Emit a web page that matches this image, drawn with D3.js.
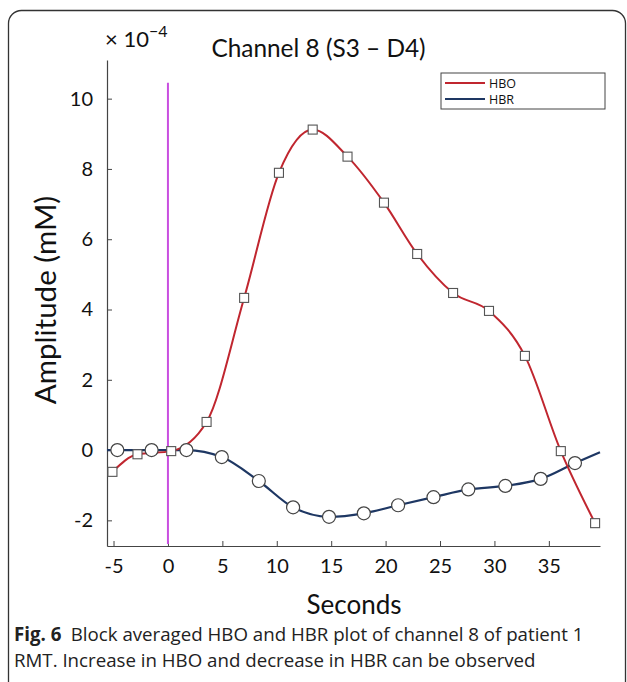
<!DOCTYPE html>
<html>
<head>
<meta charset="utf-8">
<script src="https://cdn.jsdelivr.net/npm/d3@7"></script>
<style>
  body { margin: 0; background: #fff; }
  svg { display: block; font-family: Lato, "Open Sans", sans-serif; }
</style>
</head>
<body>
<svg id="chart"></svg>
<script>
// data (amplitude in units of 1e-4 mM)
var hboT = [-5.1, -2.8, 0.3, 3.55, 7.0, 10.2, 13.3, 16.5, 19.85, 22.9, 26.2, 29.5, 32.8, 36.1, 39.25];
var hboV = [-0.62, -0.12, -0.03, 0.8, 4.33, 7.89, 9.12, 8.35, 7.04, 5.58, 4.47, 3.96, 2.68, -0.03, -2.08];
var hbrT = [-4.65, -1.5, 1.7, 4.95, 8.35, 11.5, 14.8, 18.0, 21.15, 24.4, 27.6, 31.0, 34.25, 37.4];
var hbrV = [0, 0, 0, -0.2, -0.88, -1.63, -1.9, -1.8, -1.57, -1.34, -1.12, -1.02, -0.82, -0.37];
// where the HBR trace starts / ends without a marker
var hbrStart = [-5.6, 0], hbrEnd = [39.7, -0.06];
var xTicks = [-5, 0, 5, 10, 15, 20, 25, 30, 35];
var yTicks = [-2, 0, 2, 4, 6, 8, 10];
var stimTime = 0, stimTop = 10.45;

var width = 627, height = 682;
var margin = {left: 107, right: 27, top: 60, bottom: 136};

var svg = d3.select('#chart')
  .attr('width', width)
  .attr('height', height);

// frame of the figure panel
svg.append('rect')
  .attr('x', 8.5).attr('y', 10.5)
  .attr('width', 617).attr('height', 720)
  .attr('rx', 13)
  .attr('fill', 'none')
  .attr('stroke', '#333')
  .attr('stroke-width', 1.3);

var x = d3.scaleLinear().domain([-5.6, 39.7]).range([margin.left, width - margin.right]);
var y = d3.scaleLinear().domain([-2.73, 11.1]).range([height - margin.bottom, margin.top]);

var g = svg.append('g');

// axes, ticks point inward; plain hyphen for negatives like the original
var fmt = function(d) { return String(d); };
var xAxis = g.append('g')
  .attr('transform', 'translate(0,' + (height - margin.bottom) + ')')
  .call(d3.axisBottom(x).tickValues(xTicks).tickFormat(fmt).tickSize(-5).tickPadding(13).tickSizeOuter(0));
var yAxis = g.append('g')
  .attr('transform', 'translate(' + margin.left + ',0)')
  .call(d3.axisLeft(y).tickValues(yTicks).tickFormat(fmt).tickSize(-5).tickPadding(14).tickSizeOuter(0));

[xAxis, yAxis].forEach(function(a) {
  a.select('.domain').attr('stroke', '#444').attr('stroke-width', 1.2);
  a.selectAll('.tick line').attr('stroke', '#444');
  a.selectAll('.tick text')
    .attr('font-family', 'Lato, "Open Sans", sans-serif')
    .attr('font-size', 20)
    .attr('fill', '#111');
});

// stimulus onset
g.append('line')
  .attr('x1', x(stimTime)).attr('x2', x(stimTime))
  .attr('y1', y(stimTop)).attr('y2', height - margin.bottom - 2)
  .attr('stroke', '#c94fe0')
  .attr('stroke-width', 2);

var line = d3.line()
  .x(function(d) { return x(d[0]); })
  .y(function(d) { return y(d[1]); })
  .curve(d3.curveMonotoneX);

var hbo = hboT.map(function(t, i) { return [t, hboV[i]]; });
var hbr = hbrT.map(function(t, i) { return [t, hbrV[i]]; });

g.append('path')
  .datum([hbrStart].concat(hbr, [hbrEnd]))
  .attr('d', line)
  .attr('fill', 'none')
  .attr('stroke', '#1e3763')
  .attr('stroke-width', 2.2);

g.append('path')
  .datum(hbo)
  .attr('d', line)
  .attr('fill', 'none')
  .attr('stroke', '#c0262f')
  .attr('stroke-width', 2);

g.selectAll('circle.hbr')
  .data(hbr)
  .enter()
  .append('circle')
  .attr('class', 'hbr')
  .attr('cx', function(d) { return x(d[0]); })
  .attr('cy', function(d) { return y(d[1]); })
  .attr('r', 6.5)
  .attr('fill', '#fff')
  .attr('stroke', '#444')
  .attr('stroke-width', 1.2);

var sq = 9;
g.selectAll('rect.hbo')
  .data(hbo)
  .enter()
  .append('rect')
  .attr('class', 'hbo')
  .attr('x', function(d) { return x(d[0]) - sq / 2; })
  .attr('y', function(d) { return y(d[1]) - sq / 2; })
  .attr('width', sq).attr('height', sq)
  .attr('fill', '#fff')
  .attr('stroke', '#555')
  .attr('stroke-width', 1.1);

// texts
svg.append('text')
  .attr('x', 318.5).attr('y', 57)
  .attr('text-anchor', 'middle')
  .attr('font-size', 24.4)
  .attr('fill', '#111')
  .text('Channel 8 (S3 – D4)');

var exp = svg.append('text')
  .attr('x', 105).attr('y', 47)
  .attr('font-size', 22)
  .attr('fill', '#111');
exp.append('tspan').text('× 10');
exp.append('tspan').attr('dy', -10).attr('font-size', 16).text('−4');

svg.append('text')
  .attr('transform', 'translate(56,' + 300 + ') rotate(-90)')
  .attr('text-anchor', 'middle')
  .attr('font-size', 29.5)
  .attr('fill', '#111')
  .text('Amplitude (mM)');

svg.append('text')
  .attr('x', 354).attr('y', 614)
  .attr('text-anchor', 'middle')
  .attr('font-size', 26)
  .attr('fill', '#111')
  .text('Seconds');

// legend
var legend = svg.append('g').attr('transform', 'translate(441,73)');
legend.append('rect')
  .attr('width', 164).attr('height', 36)
  .attr('fill', '#fff')
  .attr('stroke', '#444')
  .attr('stroke-width', 1);
var legendItems = [['HBO', '#c0262f'], ['HBR', '#1e3763']];
legendItems.forEach(function(d, i) {
  legend.append('line')
    .attr('x1', 4).attr('x2', 44)
    .attr('y1', 10 + i * 16).attr('y2', 10 + i * 16)
    .attr('stroke', d[1]).attr('stroke-width', 2);
  legend.append('text')
    .attr('x', 48).attr('y', 14.5 + i * 16)
    .attr('font-family', '"Open Sans", sans-serif')
    .attr('font-size', 12.5)
    .attr('fill', '#111')
    .text(d[0]);
});

// caption
var cap = svg.append('g')
  .attr('font-family', '"Open Sans", sans-serif')
  .attr('font-size', 18.7)
  .attr('fill', '#222');
var c1 = cap.append('text').attr('x', 14).attr('y', 641);
c1.append('tspan').attr('font-weight', 'bold').text('Fig. 6');
c1.append('tspan').text('\u2002Block averaged HBO and HBR plot of channel 8 of patient 1');
cap.append('text').attr('x', 14).attr('y', 667)
  .text('RMT. Increase in HBO and decrease in HBR can be observed');
</script>
</body>
</html>
